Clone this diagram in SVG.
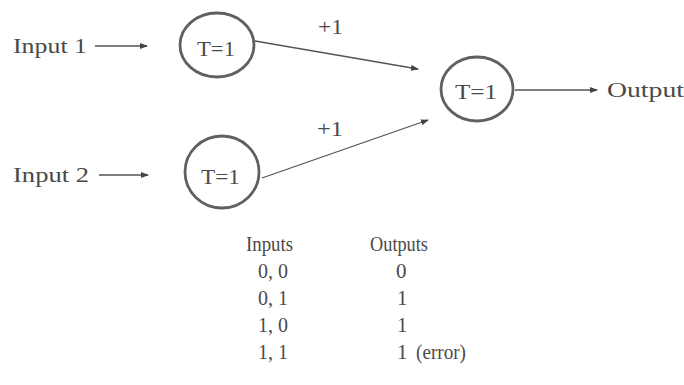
<svg xmlns="http://www.w3.org/2000/svg" width="684" height="385" viewBox="0 0 684 385">
<defs>
<marker id="ah" markerWidth="8" markerHeight="6" refX="7" refY="3" orient="auto" markerUnits="userSpaceOnUse">
<path d="M0,0 L8,3 L0,6 Z" fill="#444"/>
</marker>
<style>
text{font-family:"Liberation Serif","Times New Roman",serif;fill:#4a4a4a;font-size:21px}
.node ellipse{fill:none;stroke:#606060;stroke-width:2.8}
.conn line{stroke:#555;stroke-width:1.3;marker-end:url(#ah)}
</style>
</defs>
<rect width="684" height="385" fill="#fff"/>
<g id="labels">
<text x="13" y="53" textLength="74" lengthAdjust="spacingAndGlyphs">Input 1</text>
<text x="13" y="182" textLength="76" lengthAdjust="spacingAndGlyphs">Input 2</text>
<text x="318" y="34" textLength="25" lengthAdjust="spacingAndGlyphs">+1</text>
<text x="317" y="136" textLength="26" lengthAdjust="spacingAndGlyphs">+1</text>
<text x="607" y="97" textLength="77" lengthAdjust="spacingAndGlyphs">Output</text>
</g>
<g id="n1" class="node">
<ellipse cx="217" cy="45" rx="37" ry="32"/>
<text x="197" y="56" textLength="38" lengthAdjust="spacingAndGlyphs">T=1</text>
</g>
<g id="n2" class="node">
<ellipse cx="222" cy="172" rx="37" ry="36"/>
<text x="201" y="184" textLength="39" lengthAdjust="spacingAndGlyphs">T=1</text>
</g>
<g id="n3" class="node">
<ellipse cx="477" cy="89" rx="36" ry="32"/>
<text x="455" y="99" textLength="42" lengthAdjust="spacingAndGlyphs">T=1</text>
</g>
<g id="connectors" class="conn">
<line x1="95" y1="46" x2="147" y2="46"/>
<line x1="99" y1="175" x2="148" y2="175"/>
<line x1="255" y1="41" x2="418" y2="69"/>
<line x1="262" y1="178" x2="428" y2="120"/>
<line x1="515" y1="90" x2="597" y2="90"/>
</g>
<g id="table">
<text x="246" y="251" textLength="47" lengthAdjust="spacingAndGlyphs">Inputs</text>
<text x="370" y="251" textLength="58" lengthAdjust="spacingAndGlyphs">Outputs</text>
<text x="258" y="278" textLength="30" lengthAdjust="spacingAndGlyphs">0, 0</text>
<text x="258" y="305" textLength="30" lengthAdjust="spacingAndGlyphs">0, 1</text>
<text x="258" y="332" textLength="30" lengthAdjust="spacingAndGlyphs">1, 0</text>
<text x="258" y="359" textLength="30" lengthAdjust="spacingAndGlyphs">1, 1</text>
<text x="396" y="278">0</text>
<text x="397" y="305">1</text>
<text x="397" y="332">1</text>
<text x="397" y="359">1</text>
<text x="416" y="359" textLength="50" lengthAdjust="spacingAndGlyphs">(error)</text>
</g>
</svg>
